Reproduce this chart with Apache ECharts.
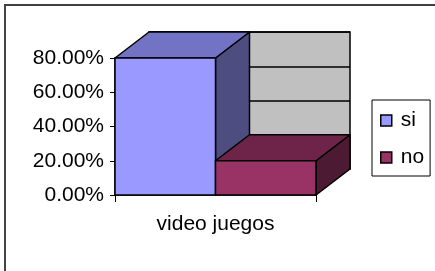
<!DOCTYPE html>
<html>
<head>
<meta charset="utf-8">
<script src="https://cdn.jsdelivr.net/npm/echarts@6/dist/echarts.min.js"></script>
<style>
  html, body { margin: 0; padding: 0; background: #fff; }
  #chart { width: 435px; height: 271px; }
</style>
</head>
<body>
<div id="chart"></div>
<script>
const categories = ['video juegos'];
const seriesNames = ['si', 'no'];
const siValues = [0.8];
const noValues = [0.2];
const yMin = 0, yMax = 0.8, yStep = 0.2;

// depth of the fake 3D boxes
const DX = 34, DY = -26;
const GRID = { left: 115, top: 58, width: 201, height: 137 };

const faces = {
    si: { front: '#9999ff', top: '#7373c6', side: '#4d4d80' },
    no: { front: '#993366', top: '#6e2449', side: '#4d1a33' }
};

function makeRender(slot, c) {
    return function (params, api) {
        const base = api.coord([api.value(0), 0]);
        const top = api.coord([api.value(0), api.value(1)]);
        const band = api.size([1, 0])[0];
        const w = band / 2;
        const x0 = base[0] - band / 2 + slot * w;
        const x1 = x0 + w;
        const st = { stroke: '#000', lineWidth: 1.5, lineJoin: 'round' };
        return {
            type: 'group',
            children: [
                { type: 'polygon', shape: { points: [[x1, top[1]], [x1 + DX, top[1] + DY], [x1 + DX, base[1] + DY], [x1, base[1]]] },
                  style: Object.assign({ fill: c.side }, st) },
                { type: 'polygon', shape: { points: [[x0, top[1]], [x1, top[1]], [x1 + DX, top[1] + DY], [x0 + DX, top[1] + DY]] },
                  style: Object.assign({ fill: c.top }, st) },
                { type: 'rect', shape: { x: x0, y: top[1], width: w, height: base[1] - top[1] },
                  style: Object.assign({ fill: c.front }, st) }
            ]
        };
    };
}

const chart = echarts.init(document.getElementById('chart'));
const font = 'Liberation Sans, Arial, sans-serif';

chart.setOption({
    animation: false,
    backgroundColor: '#fff',
    textStyle: { fontFamily: font },
    graphic: [
        { type: 'line', shape: { x1: 4, y1: 5, x2: 435, y2: 5 }, style: { stroke: '#000', lineWidth: 1.5 } },
        { type: 'line', shape: { x1: 5, y1: 5, x2: 5, y2: 271 }, style: { stroke: '#444', lineWidth: 2 } }
    ],
    legend: {
        orient: 'vertical',
        left: 372, top: 100,
        padding: [10, 6, 8, 8],
        itemGap: 16,
        itemWidth: 11, itemHeight: 11,
        borderColor: '#000', borderWidth: 1,
        icon: 'rect',
        itemStyle: { borderColor: '#000', borderWidth: 1.5 },
        textStyle: { fontSize: 21, color: '#000', fontFamily: font, padding: [0, 0, 0, 4] },
        data: seriesNames
    },
    grid: [
        Object.assign({}, GRID),
        { left: GRID.left + DX, top: GRID.top + DY, width: GRID.width, height: GRID.height,
          show: true, backgroundColor: '#c0c0c0', borderColor: '#000', borderWidth: 1.5, z: 0 }
    ],
    xAxis: [
        { type: 'category', gridIndex: 0, data: categories,
          axisLine: { lineStyle: { color: '#000', width: 1.5 } },
          axisTick: { show: true, length: 7, lineStyle: { color: '#000' } },
          axisLabel: { fontSize: 21, color: '#000', margin: 19, fontFamily: font } },
        { type: 'category', gridIndex: 1, data: categories, show: false }
    ],
    yAxis: [
        { type: 'value', gridIndex: 0, min: yMin, max: yMax, interval: yStep,
          axisLine: { show: true, lineStyle: { color: '#000', width: 1.5 } },
          axisTick: { show: true, length: 5, lineStyle: { color: '#000' } },
          splitLine: { show: false },
          axisLabel: { fontSize: 21, color: '#000', margin: 11, fontFamily: font,
                       formatter: v => (v * 100).toFixed(2) + '%' } },
        { type: 'value', gridIndex: 1, min: yMin, max: yMax, interval: yStep,
          axisLine: { show: false }, axisTick: { show: false }, axisLabel: { show: false },
          splitLine: { show: true, lineStyle: { color: '#000', width: 1.5 } } }
    ],
    series: [
        { name: seriesNames[0], type: 'custom', xAxisIndex: 0, yAxisIndex: 0, z: 3,
          itemStyle: { color: faces.si.front },
          renderItem: makeRender(0, faces.si),
          data: categories.map((c, i) => [i, siValues[i]]) },
        { name: seriesNames[1], type: 'custom', xAxisIndex: 0, yAxisIndex: 0, z: 4,
          itemStyle: { color: faces.no.front },
          renderItem: makeRender(1, faces.no),
          data: categories.map((c, i) => [i, noValues[i]]) }
    ]
});
</script>
</body>
</html>
